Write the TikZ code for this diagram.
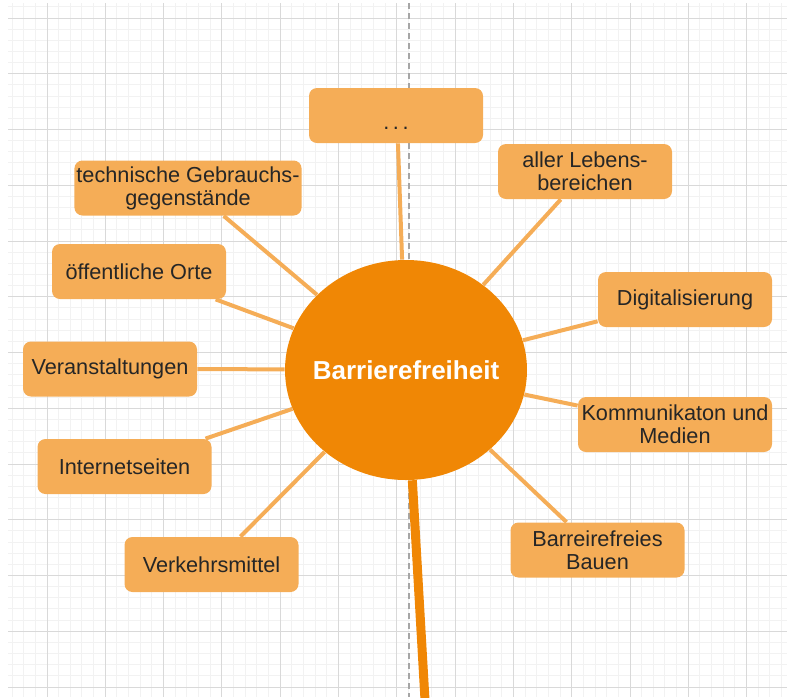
\documentclass[tikz,border=0pt]{standalone}
\usepackage{fontspec}
\setmainfont{Liberation Sans}
\usetikzlibrary{shapes.geometric}
\definecolor{hubOrange}{HTML}{F08705}
\definecolor{boxOrange}{HTML}{F5AD57}
\definecolor{gridMajor}{HTML}{D9D9D9}
\definecolor{gridMinor}{HTML}{F2F2F2}
\definecolor{guideGray}{HTML}{A6A6A6}
\definecolor{boxText}{HTML}{262626}
\tikzset{
	topicBox/.style={rectangle, rounded corners=4pt, fill=boxOrange, text=boxText, minimum width=87pt, minimum height=27.5pt, inner sep=1pt, align=center, font=\fontsize{10.85}{11.6}\selectfont},
	linkLine/.style={draw=boxOrange, line width=2pt},
	gridLine/.style={line width=0.5pt}
}
\begin{document}
\begin{tikzpicture}[x=0.5pt, y=-0.5pt]
	\useasboundingbox (0,0) rectangle (787,697);
	\begin{scope}
		\clip (8,3) rectangle (787,697);
		\foreach \i in {-4,...,63} \draw[gridLine, gridMinor] (47+\i*11.66,0) -- (47+\i*11.66,697);
		\foreach \j in {-2,...,61} \draw[gridLine, gridMinor] (0,18+\j*11.15) -- (787,18+\j*11.15);
		\foreach \i in {0,...,12} \draw[gridLine, gridMajor] (47+\i*58.3,0) -- (47+\i*58.3,697);
		\foreach \j in {0,...,12} \draw[gridLine, gridMajor] (0,18+\j*55.75) -- (787,18+\j*55.75);
	\end{scope}
	\draw[guideGray, line width=0.75pt, dash pattern=on 3pt off 2pt] (409,3) -- (409,697);

	\node[ellipse, fill=hubOrange, minimum width=121pt, minimum height=110pt, inner sep=0pt, text=white, font=\bfseries\fontsize{13}{15}\selectfont](hub) at (406,370){\makebox[0pt]{Barrierefreiheit}};

	\node[topicBox, text height=15pt, text depth=1.5pt](dotsBox) at (396,115.5){.\,.\,.};
	\node[topicBox](allerBox)                      at (585,171.5){aller Lebens-\\bereichen};
	\node[topicBox](digiBox)                       at (685,299.5){Digitalisierung};
	\node[topicBox, minimum width=97pt](kommBox)   at (675,424.5){Kommunikaton und\\Medien};
	\node[topicBox](bauenBox)                      at (597.5,550){Barreirefreies\\Bauen};
	\node[topicBox](verkehrBox)                    at (211.5,564.5){Verkehrsmittel};
	\node[topicBox](internetBox)                   at (124.5,466.5){Internetseiten};
	\node[topicBox](veranBox)                      at (110,369){Veranstaltungen};
	\node[topicBox](orteBox)                       at (139,271.5){öffentliche Orte};
	\node[topicBox, minimum width=111pt](technikBox) at (188,188){technische Gebrauchs-\\gegenstände};

	\draw[linkLine] (hub) -- (dotsBox.-86);
	\draw[linkLine] (hub) -- (allerBox.-131);
	\draw[linkLine] (hub) -- (digiBox.-166);
	\draw[linkLine] (hub) -- (kommBox.169);
	\draw[linkLine] (hub) -- (bauenBox.138);
	\draw[linkLine] (hub) -- (verkehrBox.44);
	\draw[linkLine] (hub) -- (internetBox.19);
	\draw[linkLine] (hub) -- (veranBox.0);
	\draw[linkLine] (hub) -- (orteBox.-20);
	\draw[linkLine] (hub) -- (technikBox.-38);

	\coordinate (tailEnd) at (425,700);
	\draw[hubOrange, line width=4.5pt] (hub) -- (tailEnd);
\end{tikzpicture}
\end{document}
